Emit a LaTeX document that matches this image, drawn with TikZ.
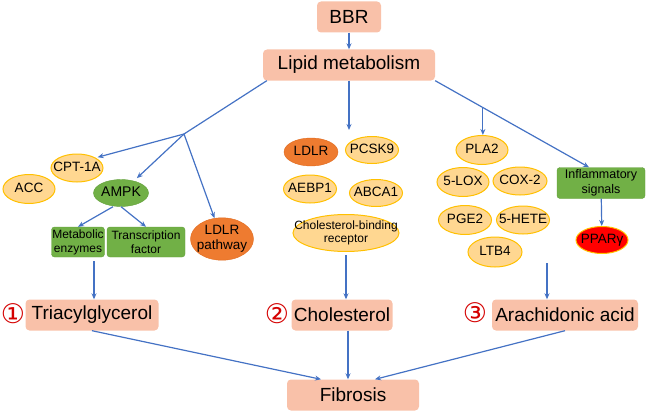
\documentclass[tikz,border=0pt]{standalone}
\usepackage{fontspec}
\setmainfont{Liberation Sans}
\newfontfamily\circfont{DejaVu Sans}
\usetikzlibrary{shapes.geometric,arrows.meta}

\definecolor{arrblue}{HTML}{4472C4}
\definecolor{peach}{HTML}{F9C1A9}
\definecolor{oval}{HTML}{FFD791}
\definecolor{ovalline}{HTML}{FFC000}
\definecolor{grn}{HTML}{71B046}
\definecolor{grnline}{HTML}{62A03A}
\definecolor{org}{HTML}{EE7B30}
\definecolor{orgline}{HTML}{E06A1E}
\definecolor{numred}{HTML}{D40000}

\newcommand{\ovaltext}[1]{\makebox[0pt]{\begin{tabular}{@{}c@{}}#1\end{tabular}}}

\begin{document}
\begin{tikzpicture}[x=1pt, y=-1pt,
    peachbox/.style={rectangle, rounded corners=4pt, fill=peach, minimum height=31pt, inner sep=0pt, font=\fontsize{19}{22}\selectfont},
    yel/.style={ellipse, draw=ovalline, fill=oval, line width=1pt, inner sep=0pt, font=\fontsize{13.5}{15}\selectfont},
    grnoval/.style={ellipse, draw=grnline, fill=grn, inner sep=0pt, font=\fontsize{14}{16}\selectfont},
    grnbox/.style={rectangle, rounded corners=3pt, draw=grnline, fill=grn, minimum height=30pt, inner sep=0pt, align=center, font=\fontsize{12}{14}\selectfont},
    orgoval/.style={ellipse, draw=orgline, fill=org, inner sep=0pt, font=\fontsize{13.5}{15}\selectfont},
    num/.style={text=numred, inner sep=0pt, font=\circfont\fontsize{27}{28}\selectfont},
    arrow/.style={-{Stealth[length=6pt, width=5pt]}, draw=arrblue, line width=1.2pt},
    link/.style={draw=arrblue, line width=1.2pt}
]
    \useasboundingbox (0,0) rectangle (650,412);

    \node[peachbox, minimum width=64pt] (bbr) at (349,17) {BBR};
    \node[peachbox, minimum width=172pt] (lipid) at (349,65) {Lipid metabolism};

    % triacylglycerol branch
    \node[yel, minimum width=52pt, minimum height=28pt] (cpt) at (77,168) {\ovaltext{CPT-1A}};
    \node[yel, minimum width=52pt, minimum height=29pt] (acc) at (29,189) {\ovaltext{ACC}};
    \node[grnoval, minimum width=55pt, minimum height=27pt] (ampk) at (121,193) {\ovaltext{AMPK}};
    \node[grnbox, minimum width=53pt] (menz) at (78,242) {Metabolic\\enzymes};
    \node[grnbox, minimum width=78pt] (tfac) at (146,242) {Transcription\\factor};
    \node[orgoval, minimum width=63pt, minimum height=42pt] (ldlrp) at (222,239) {\ovaltext{LDLR\\pathway}};

    % cholesterol branch
    \node[orgoval, minimum width=54pt, minimum height=28pt] (ldlr) at (311,152) {\ovaltext{LDLR}};
    \node[yel, minimum width=53pt, minimum height=27pt] (pcsk) at (372,150) {\ovaltext{PCSK9}};
    \node[yel, minimum width=53pt, minimum height=28pt] (aebp) at (310,189) {\ovaltext{AEBP1}};
    \node[yel, minimum width=53pt, minimum height=27pt] (abca) at (376,193) {\ovaltext{ABCA1}};
    \node[yel, minimum width=106pt, minimum height=37pt, font=\fontsize{12}{13}\selectfont] (cbr) at (346,233) {\ovaltext{Cholesterol-binding\\receptor}};

    % arachidonic acid branch
    \node[yel, minimum width=52pt, minimum height=29pt] (pla) at (482,150) {\ovaltext{PLA2}};
    \node[yel, minimum width=52pt, minimum height=29pt] (lox) at (463,182) {\ovaltext{5-LOX}};
    \node[yel, minimum width=54pt, minimum height=28pt] (cox) at (520,181) {\ovaltext{COX-2}};
    \node[yel, minimum width=53pt, minimum height=29pt] (pge) at (465,220) {\ovaltext{PGE2}};
    \node[yel, minimum width=53pt, minimum height=28pt] (hete) at (523,220) {\ovaltext{5-HETE}};
    \node[yel, minimum width=54pt, minimum height=30pt] (ltb) at (495,252) {\ovaltext{LTB4}};
    \node[grnbox, minimum width=88pt, minimum height=31pt, font=\fontsize{12.5}{15}\selectfont] (infl) at (601,183) {Inflammatory\\signals};
    \node[ellipse, draw=ovalline, fill=red, line width=1pt, inner sep=0pt, minimum width=52pt, minimum height=27pt, font=\fontsize{13.5}{15}\selectfont] (ppar) at (602,240) {\ovaltext{PPARγ}};

    % lipid classes
    \node[peachbox, minimum width=133pt] (tag) at (92,315) {Triacylglycerol};
    \node[num] (n1) at (13,314) {①};
    \node[peachbox, minimum width=101pt] (chol) at (342,315) {Cholesterol};
    \node[num] (n2) at (277,314) {②};
    \node[peachbox, minimum width=146pt] (ara) at (565,315) {Arachidonic acid};
    \node[num] (n3) at (475,313) {③};
    \node[peachbox, minimum width=132pt] (fib) at (353,395) {Fibrosis};

    \coordinate (L) at (184,134);
    \coordinate (mid) at (349,130);
    \coordinate (aa) at (547,263);

    \draw[arrow] (bbr) -- (lipid);
    \draw[link] ([xshift=4pt]lipid.south west) -- (L);
    \draw[arrow, shorten >=2pt] (L) -- (cpt.north east);
    \draw[arrow, shorten >=4pt] (L) -- (ampk);
    \draw[arrow] (L) -- (ldlrp);
    \draw[arrow] (ampk.south) ++(-8pt,0) -- (menz.north);
    \draw[arrow] (ampk.south) -- (tfac.north);
    \draw[arrow, shorten <=4pt] ([xshift=16pt]menz.south) -- ([xshift=16pt]menz.south |- tag.north);

    \draw[arrow] (lipid.south) -- (mid);
    \draw[arrow, shorten <=3pt] (cbr.south) -- (cbr.south |- chol.north);

    \draw[arrow] (lipid.south east) -- coordinate[pos=0.31] (R) ([xshift=-12pt]infl.north);
    \draw[arrow] (R) -- (R |- pla.north);
    \draw[arrow] (infl) -- (ppar);
    \draw[arrow] (aa) -- (aa |- ara.north);

    \draw[arrow] (tag.south) -- ([xshift=-32pt]fib.north);
    \draw[arrow] ([xshift=6pt]chol.south) -- ([xshift=6pt]chol.south |- fib.north);
    \draw[arrow] (ara.south) -- ([xshift=22pt]fib.north);
\end{tikzpicture}
\end{document}
